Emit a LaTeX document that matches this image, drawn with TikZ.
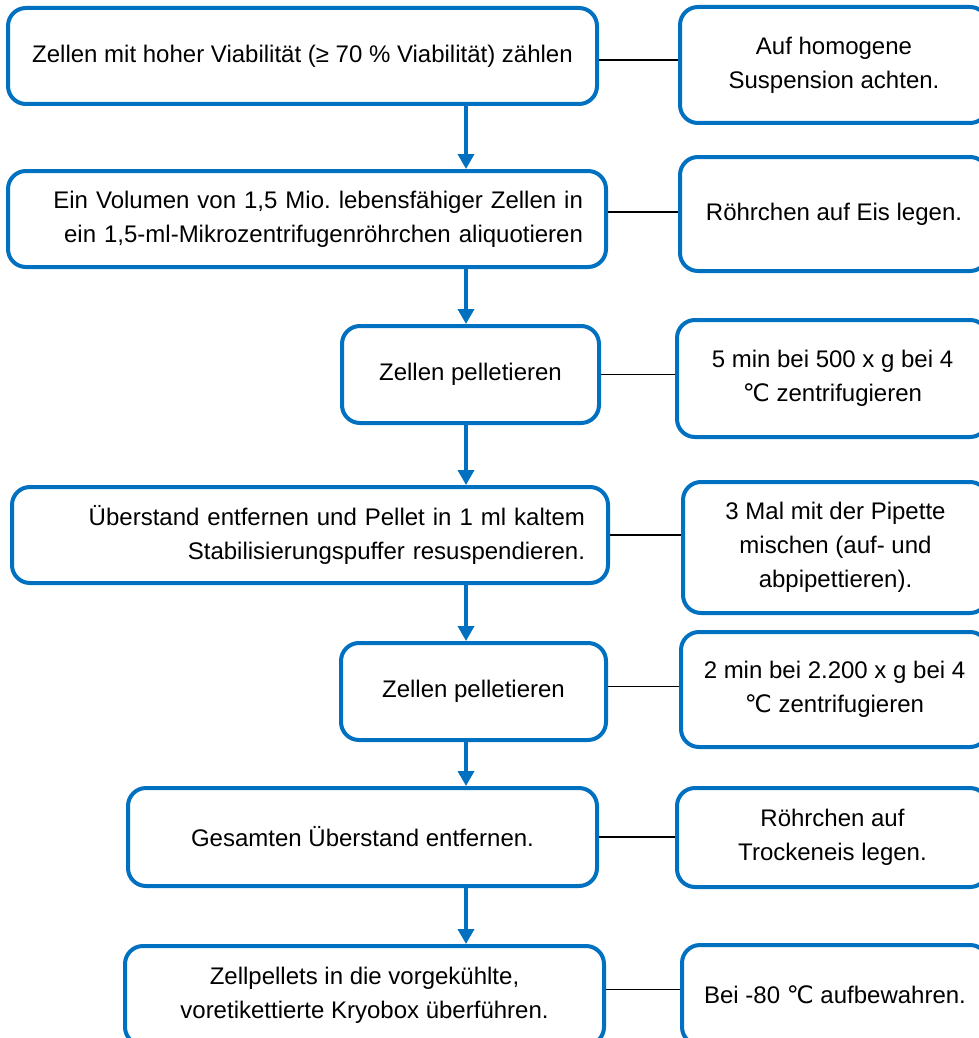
\documentclass[tikz,border=0pt]{standalone}
\usepackage{fontspec}
\setmainfont{Liberation Sans}
\newfontfamily\degfont{DejaVu Sans}
\usepackage{xcolor}
\usepackage{tikz}
\usetikzlibrary{arrows.meta}

\definecolor{stepblue}{RGB}{0,112,192}
\newcommand{\degC}{{\degfont ℃}}
\frenchspacing

\begin{document}
\begin{tikzpicture}[x=1pt, y=-1pt,
                font=\fontsize{24}{34}\selectfont,
                stepbox/.style={rectangle, draw=stepblue, line width=4pt, rounded corners=18pt, inner xsep=23pt, inner ysep=0pt, align=center},
                notebox/.style={stepbox, inner xsep=0pt},
                flow/.style={draw=stepblue, line width=3.5pt, -{Triangle[length=15pt, width=16pt]}},
                link/.style={line width=1.8pt}
            ]
                \useasboundingbox (0,0) rectangle (979,1038);
                \coordinate (axis) at (466,0);

                % Nodes: steps
                \node[stepbox, minimum width=589pt, minimum height=96pt] (b1) at (302.5,56) {Zellen mit hoher Viabilität (≥ 70 \% Viabilität) zählen};
                \node[stepbox, text width=552pt, align=right, minimum height=96pt] (b2) at (307,219) {Ein Volumen von 1,5 Mio. lebensfähiger Zellen in\\ein 1,5-ml-Mikrozentrifugenröhrchen aliquotieren};
                \node[stepbox, minimum width=257pt, minimum height=97pt] (b3) at (470.5,374.5) {Zellen pelletieren};
                \node[stepbox, text width=550pt, align=right, minimum height=96pt] (b4) at (310,535) {Überstand entfernen und Pellet in 1 ml kaltem\\Stabilisierungspuffer resuspendieren.};
                \node[stepbox, minimum width=265pt, minimum height=97pt] (b5) at (473.5,691.5) {Zellen pelletieren};
                \node[stepbox, minimum width=469pt, minimum height=98pt] (b6) at (362.5,837) {Gesamten Überstand entfernen.};
                \node[stepbox, minimum width=479pt, minimum height=99pt] (b7) at (364.5,995.5) {Zellpellets in die vorgekühlte,\\voretikettierte Kryobox überführen.};

                % Nodes: notes
                \node[notebox, minimum width=308pt, minimum height=116pt] (s1) at (834,65) {Auf homogene\\Suspension achten.};
                \node[notebox, minimum width=308pt, minimum height=114pt] (s2) at (834,214) {Röhrchen auf Eis legen.};
                \node[notebox, minimum width=311pt, minimum height=117pt] (s3) at (832.5,378.5) {5 min bei 500 x g bei 4\\\degC{} zentrifugieren};
                \node[notebox, minimum width=305pt, minimum height=131pt] (s4) at (835.5,547.5) {3 Mal mit der Pipette\\mischen (auf- und\\abpipettieren).};
                \node[notebox, minimum width=307pt, minimum height=115pt] (s5) at (834.5,689.5) {2 min bei 2.200 x g bei 4\\\degC{} zentrifugieren};
                \node[notebox, minimum width=311pt, minimum height=99pt] (s6) at (832.5,837.5) {Röhrchen auf\\Trockeneis legen.};
                \node[notebox, minimum width=306pt, minimum height=100pt] (s7) at (835,995) {Bei -80 \degC{} aufbewahren.};

                % Paths: step to step
                \draw[flow] (b1.south -| axis) -- (b2.north -| axis);
                \draw[flow] (b2.south -| axis) -- (b3.north -| axis);
                \draw[flow] (b3.south -| axis) -- (b4.north -| axis);
                \draw[flow] (b4.south -| axis) -- (b5.north -| axis);
                \draw[flow] (b5.south -| axis) -- (b6.north -| axis);
                \draw[flow] (b6.south -| axis) -- (b7.north -| axis);

                % Paths: step to note
                \draw[link] ([yshift=-4pt]b1.east) -- ([yshift=-4pt]b1.east -| s1.west);
                \draw[link] ([yshift=7pt]b2.east) -- ([yshift=7pt]b2.east -| s2.west);
                \draw[link] (b3.east) -- (b3.east -| s3.west);
                \draw[link] (b4.east) -- (b4.east -| s4.west);
                \draw[link] ([yshift=5pt]b5.east) -- ([yshift=5pt]b5.east -| s5.west);
                \draw[link] (b6.east) -- (b6.east -| s6.west);
                \draw[link] ([yshift=6pt]b7.east) -- ([yshift=6pt]b7.east -| s7.west);
            \end{tikzpicture}
\end{document}
